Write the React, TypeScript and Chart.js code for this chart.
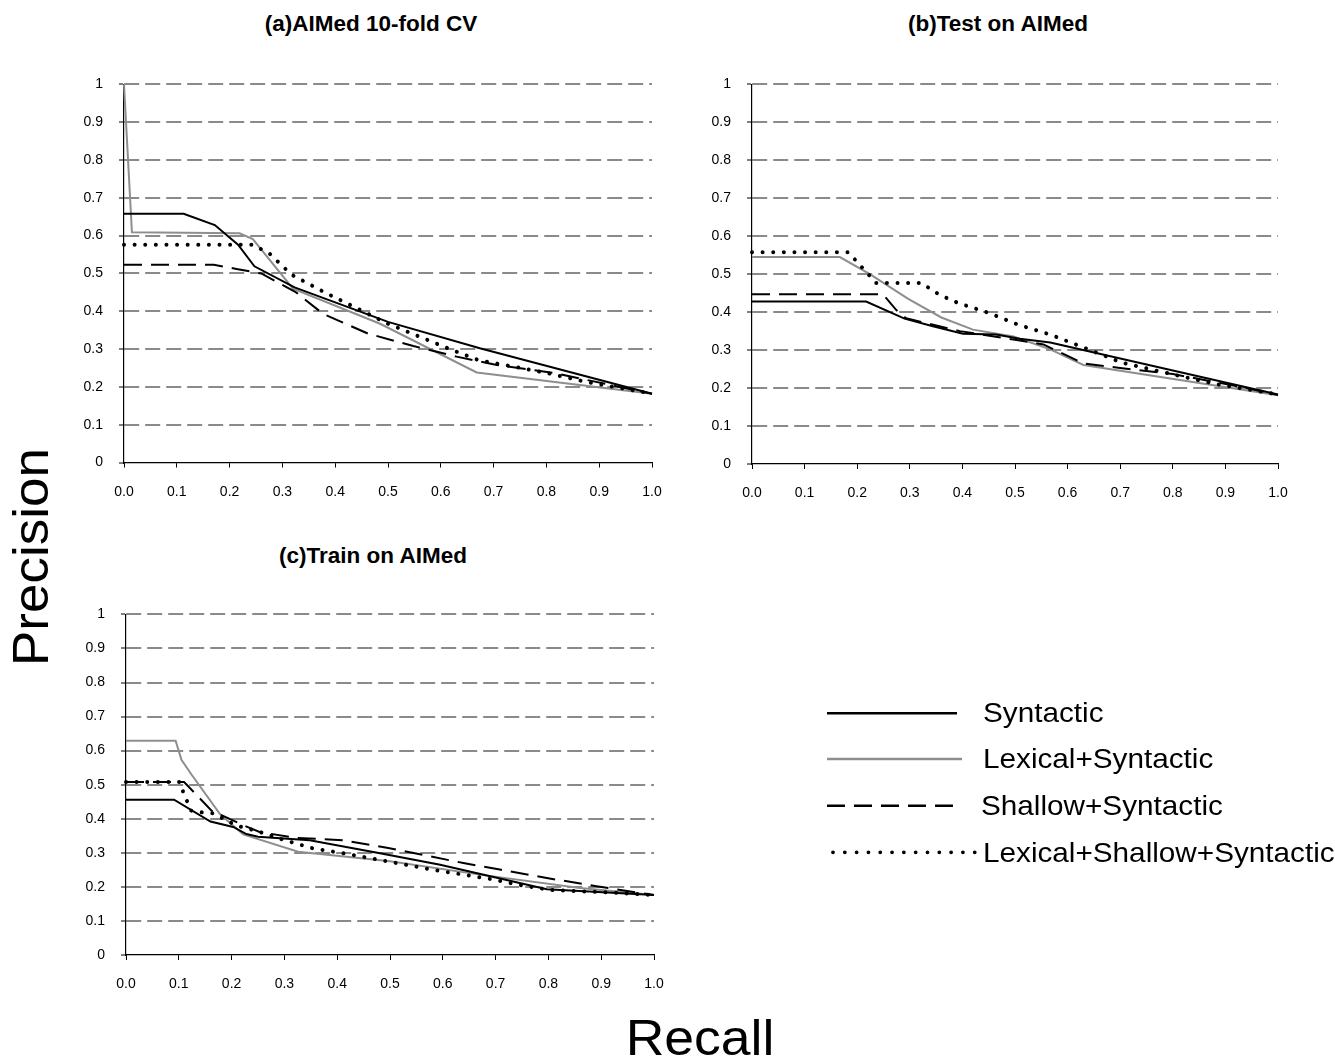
import React, { useEffect, useRef } from 'react';
import { Chart, registerables } from 'chart.js';

Chart.register(...registerables);

const FONT = '"Liberation Sans", Arial, Helvetica, sans-serif';

// ---------- data ----------
const seriesNames = ['Syntactic', 'Lexical+Syntactic', 'Shallow+Syntactic', 'Lexical+Shallow+Syntactic'];
const panelTitles = ['(a)AIMed 10-fold CV', '(b)Test on AIMed', '(c)Train on AIMed'];
const xTickValues = [0, 0.1, 0.2, 0.3, 0.4, 0.5, 0.6, 0.7, 0.8, 0.9, 1.0];
const yTickValues = [0, 0.1, 0.2, 0.3, 0.4, 0.5, 0.6, 0.7, 0.8, 0.9, 1.0];

// (a) AIMed 10-fold CV
const aSynR = [0, 0.113, 0.172, 0.216, 0.247, 0.323, 0.5, 0.674, 1.0];
const aSynP = [0.658, 0.658, 0.628, 0.576, 0.519, 0.463, 0.372, 0.302, 0.182];
const aLexR = [0, 0.015, 0.219, 0.244, 0.32, 0.485, 0.668, 1.0];
const aLexP = [1.0, 0.609, 0.606, 0.591, 0.46, 0.367, 0.238, 0.182];
const aShaR = [0, 0.17, 0.213, 0.26, 0.326, 0.377, 0.462, 0.548, 0.63, 0.706, 0.813, 1.0];
const aShaP = [0.523, 0.523, 0.512, 0.5, 0.45, 0.393, 0.341, 0.308, 0.28, 0.258, 0.237, 0.182];
const aAllR = [0, 0.244, 0.276, 0.317, 0.38, 0.5, 0.617, 0.671, 0.8, 0.876, 1.0];
const aAllP = [0.576, 0.576, 0.552, 0.497, 0.45, 0.367, 0.3, 0.271, 0.237, 0.213, 0.182];

// (b) Test on AIMed
const bSynR = [0, 0.217, 0.29, 0.344, 0.401, 0.464, 0.509, 0.567, 1.0];
const bSynP = [0.428, 0.428, 0.383, 0.363, 0.343, 0.341, 0.33, 0.32, 0.183];
const bLexR = [0, 0.167, 0.224, 0.297, 0.36, 0.42, 0.497, 0.567, 0.63, 1.0];
const bLexP = [0.545, 0.545, 0.5, 0.435, 0.386, 0.354, 0.336, 0.302, 0.261, 0.181];
const bShaR = [0, 0.249, 0.274, 0.293, 0.395, 0.497, 0.554, 0.63, 0.7, 0.8, 0.915, 1.0];
const bShaP = [0.447, 0.447, 0.406, 0.384, 0.35, 0.328, 0.315, 0.265, 0.253, 0.237, 0.207, 0.182];
const bAllR = [0, 0.183, 0.236, 0.322, 0.355, 0.39, 0.452, 0.506, 0.567, 0.643, 0.703, 0.8, 0.877, 1.0];
const bAllP = [0.558, 0.558, 0.477, 0.477, 0.447, 0.425, 0.397, 0.367, 0.341, 0.3, 0.267, 0.236, 0.212, 0.183];

// (c) Train on AIMed
const cSynR = [0, 0.091, 0.16, 0.203, 0.228, 0.25, 0.348, 0.481, 0.595, 0.797, 1.0];
const cSynP = [0.456, 0.456, 0.392, 0.376, 0.355, 0.347, 0.337, 0.299, 0.265, 0.193, 0.176];
const cLexR = [0, 0.094, 0.105, 0.124, 0.178, 0.222, 0.326, 0.5, 0.67, 0.86, 1.0];
const cLexP = [0.629, 0.629, 0.573, 0.53, 0.414, 0.354, 0.303, 0.275, 0.236, 0.197, 0.176];
const cShaR = [0, 0.11, 0.162, 0.222, 0.253, 0.322, 0.41, 0.494, 0.639, 0.708, 0.797, 0.891, 1.0];
const cShaP = [0.508, 0.508, 0.424, 0.381, 0.361, 0.344, 0.337, 0.315, 0.27, 0.251, 0.226, 0.202, 0.176];
const cAllR = [0, 0.102, 0.108, 0.123, 0.143, 0.165, 0.209, 0.25, 0.294, 0.354, 0.41, 0.481, 0.582, 0.695, 0.74, 0.803, 0.923, 1.0];
const cAllP = [0.508, 0.508, 0.48, 0.424, 0.419, 0.416, 0.38, 0.363, 0.34, 0.313, 0.299, 0.279, 0.25, 0.222, 0.207, 0.191, 0.183, 0.176];

// ---------- styles ----------
const GRAY = '#8e8e8e';
const GRID = '#8a8a8a';
const seriesStyles = [
  { borderColor: '#000', borderWidth: 2, borderDash: [] as number[], borderCapStyle: 'butt' },
  { borderColor: GRAY, borderWidth: 2, borderDash: [] as number[], borderCapStyle: 'butt' },
  { borderColor: '#000', borderWidth: 2, borderDash: [18, 9], borderCapStyle: 'butt' },
  { borderColor: '#000', borderWidth: 4, borderDash: [0.01, 10.6], borderCapStyle: 'round' },
];

const zip = (xs: number[], ys: number[]) => xs.map((x, i) => ({ x, y: ys[i] }));

const PAD_RIGHT = 40;

type PanelProps = {
  left: number; top: number; width: number; height: number;
  yWidth: number; padTop: number; xHeight: number;
  series: { r: number[]; p: number[] }[];
};

function Panel({ left, top, width, height, yWidth, padTop, xHeight, series }: PanelProps) {
  const ref = useRef<HTMLCanvasElement>(null);
  useEffect(() => {
    if (!ref.current) return;
    const drawOrder = [0, 3, 2, 1];
    const chart = new Chart(ref.current, {
      type: 'line',
      data: {
        datasets: drawOrder.map((i) => ({
          label: seriesNames[i],
          data: zip(series[i].r, series[i].p),
          ...seriesStyles[i],
          pointRadius: 0,
          tension: 0,
          fill: false,
          clip: 6,
        })) as any,
      },
      options: {
        responsive: false,
        maintainAspectRatio: false,
        animation: false,
        events: [],
        layout: { padding: { top: padTop, right: PAD_RIGHT, left: 0, bottom: 0 } },
        plugins: { legend: { display: false }, tooltip: { enabled: false }, title: { display: false } },
        scales: {
          x: {
            type: 'linear',
            min: 0,
            max: 1,
            afterFit: (s: any) => { s.height = xHeight; },
            afterBuildTicks: (s: any) => { s.ticks = xTickValues.map((v) => ({ value: v })); },
            ticks: {
              callback: (v: any) => Number(v).toFixed(1),
              font: { family: FONT, size: 14 },
              color: '#000',
              padding: 16,
              maxRotation: 0,
              autoSkip: false,
            },
            grid: { drawOnChartArea: false, drawTicks: true, tickLength: 5, tickColor: '#000', tickWidth: 1, lineWidth: 1 },
            border: { display: true, color: '#000', width: 1.2 },
          },
          y: {
            type: 'linear',
            min: 0,
            max: 1,
            afterFit: (s: any) => { s.width = yWidth; },
            afterBuildTicks: (s: any) => { s.ticks = yTickValues.map((v) => ({ value: v })); },
            ticks: {
              callback: (v: any) => String(parseFloat(Number(v).toFixed(1))),
              font: { family: FONT, size: 14 },
              color: '#000',
              padding: 16,
            },
            grid: {
              color: (ctx: any) => (ctx.tick && ctx.tick.value === 0 ? 'rgba(0,0,0,0)' : GRID),
              lineWidth: 2,
              drawTicks: true,
              tickLength: 5,
              tickColor: '#000',
              tickWidth: 1,
              tickBorderDash: [],
            },
            border: { display: true, color: '#000', width: 1.2, dash: [15, 6] },
          },
        },
      } as any,
    });
    return () => chart.destroy();
  }, []);
  return (
    <canvas
      ref={ref}
      width={width}
      height={height}
      style={{ position: 'absolute', left, top, width, height }}
    />
  );
}

const titleStyle = (cx: number, top: number): React.CSSProperties => ({
  position: 'absolute',
  left: cx - 200,
  top,
  width: 400,
  textAlign: 'center',
  fontFamily: FONT,
  fontWeight: 'bold',
  fontSize: 22.5,
  lineHeight: '22px',
  whiteSpace: 'nowrap',
  color: '#000',
});

const legendRows = [
  { y: 713.3, x1: 827, x2: 957, textTop: 699, textLeft: 983 },
  { y: 759, x1: 827, x2: 962, textTop: 745, textLeft: 983 },
  { y: 805.7, x1: 827, x2: 962, textTop: 792, textLeft: 981 },
  { y: 852.3, x1: 833, x2: 975, textTop: 839, textLeft: 983 },
];

export default function App() {
  return (
    <div
      style={{
        position: 'fixed',
        left: 0,
        top: 0,
        width: 1335,
        height: 1064,
        background: '#fff',
        overflow: 'hidden',
        fontFamily: FONT,
      }}
    >
      <Panel
        left={60} top={60} width={652 - 60 + PAD_RIGHT} height={460}
        yWidth={64} padTop={19} xHeight={57.5}
        series={[{ r: aSynR, p: aSynP }, { r: aLexR, p: aLexP }, { r: aShaR, p: aShaP }, { r: aAllR, p: aAllP }]}
      />
      <Panel
        left={690} top={60} width={1278 - 690 + PAD_RIGHT} height={461}
        yWidth={62} padTop={20.5} xHeight={57}
        series={[{ r: bSynR, p: bSynP }, { r: bLexR, p: bLexP }, { r: bShaR, p: bShaP }, { r: bAllR, p: bAllP }]}
      />
      <Panel
        left={60} top={590} width={654 - 60 + PAD_RIGHT} height={422}
        yWidth={66} padTop={19} xHeight={57}
        series={[{ r: cSynR, p: cSynP }, { r: cLexR, p: cLexP }, { r: cShaR, p: cShaP }, { r: cAllR, p: cAllP }]}
      />

      <div style={titleStyle(371, 13)}>{panelTitles[0]}</div>
      <div style={titleStyle(998, 13)}>{panelTitles[1]}</div>
      <div style={titleStyle(373, 545)}>{panelTitles[2]}</div>

      <div
        style={{
          position: 'absolute',
          left: 30.5 - 150,
          top: 557 - 25,
          width: 300,
          height: 50,
          fontSize: 50,
          lineHeight: '50px',
          textAlign: 'center',
          transform: 'rotate(-90deg) scaleX(1.06)',
          color: '#000',
          whiteSpace: 'nowrap',
        }}
      >
        Precision
      </div>
      <div
        style={{
          position: 'absolute',
          left: 700 - 150,
          top: 1012.7,
          width: 300,
          fontSize: 50,
          lineHeight: '50px',
          textAlign: 'center',
          transform: 'scaleX(1.07)',
          color: '#000',
          whiteSpace: 'nowrap',
        }}
      >
        Recall
      </div>

      <svg
        width={1335}
        height={1064}
        style={{ position: 'absolute', left: 0, top: 0, pointerEvents: 'none' }}
      >
        {legendRows.map((row, i) => (
          <line
            key={i}
            x1={row.x1}
            x2={row.x2}
            y1={row.y}
            y2={row.y}
            stroke={seriesStyles[i].borderColor}
            strokeWidth={i === 3 ? 3.8 : 2.5}
            strokeDasharray={i === 2 ? '18 9' : i === 3 ? '0.01 11.8' : undefined}
            strokeLinecap={i === 3 ? 'round' : 'butt'}
          />
        ))}
      </svg>
      {legendRows.map((row, i) => (
        <div
          key={i}
          style={{
            position: 'absolute',
            left: row.textLeft,
            top: row.textTop,
            fontSize: 27.5,
            lineHeight: '27px',
            whiteSpace: 'nowrap',
            color: '#000',
            transform: 'scaleX(1.08)',
            transformOrigin: 'left center',
          }}
        >
          {seriesNames[i]}
        </div>
      ))}
    </div>
  );
}
